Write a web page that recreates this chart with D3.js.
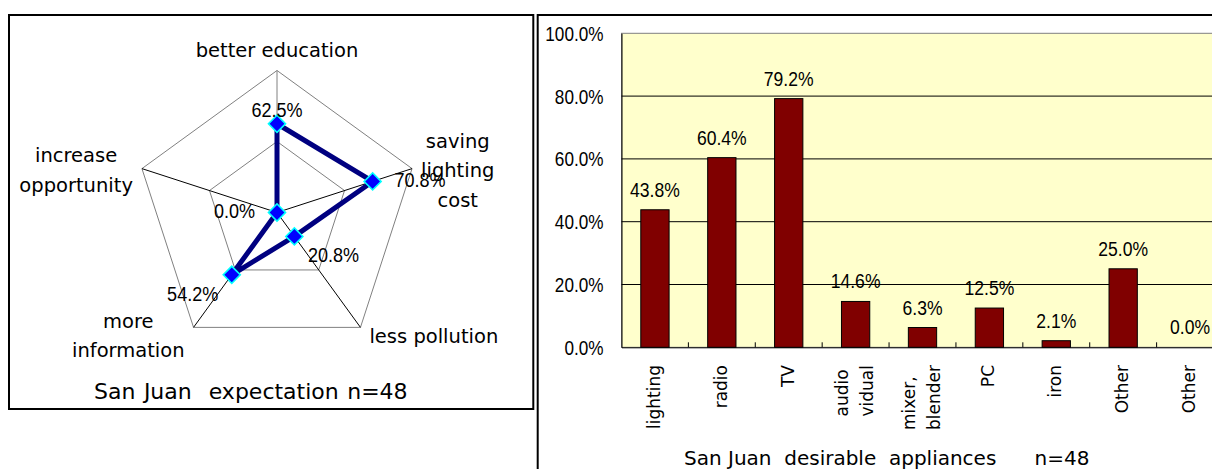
<!DOCTYPE html>
<html><head><meta charset="utf-8">
<script src="https://cdn.jsdelivr.net/npm/d3@7"></script>
<style>
html,body{margin:0;padding:0;background:#fff;}
svg{display:block;}
</style></head>
<body>
<svg id="c" width="1212" height="469"></svg>
<script>
// ---------- Radar chart data ----------
const radarCategories = [["better education"], ["saving", "lighting", "cost"], ["less pollution"], ["more", "information"], ["increase", "opportunity"]];
const radarValues = [0.625, 0.708, 0.208, 0.542, 0.0];
const radarTicks = [0.5, 1.0];
const radarTitle = "San Juan  expectation n=48";

// ---------- Bar chart data ----------
const barCategories = [["lighting"], ["radio"], ["TV"], ["audio", "vidual"], ["mixer,", "blender"], ["PC"], ["iron"], ["Other"], ["Other"]];
const barValues = [0.438, 0.604, 0.792, 0.146, 0.063, 0.125, 0.021, 0.25, 0.0];
const barTicks = [0, 0.2, 0.4, 0.6, 0.8, 1.0];
const barTitle = "San Juan  desirable  appliances      n=48";

const TXT = "'DejaVu Sans', sans-serif";
const NUM = "'Liberation Sans', Arial, sans-serif";
const pct = d3.format(".1%");

const svg = d3.select("#c");

// condensed numeric label helper
function numLabel(parent, x, y, str, anchor, size, sx) {
  const g = parent.append("g").attr("transform", `translate(${x},${y}) scale(${sx},1)`);
  g.append("text").attr("x", 0).attr("y", 0).attr("text-anchor", anchor)
    .attr("font-family", NUM).attr("font-size", size).attr("fill", "#000").text(str);
  return g;
}

// ---------- frames ----------
svg.append("rect").attr("x", 9).attr("y", 15).attr("width", 524.3).attr("height", 394)
  .attr("fill", "#fff").attr("stroke", "#000").attr("stroke-width", 2);
svg.append("rect").attr("x", 537.7).attr("y", 15).attr("width", 800).attr("height", 600)
  .attr("fill", "#fff").attr("stroke", "#000").attr("stroke-width", 2);

// ---------- Radar ----------
const cx = 277, cy = 212.5, R = 142;
const n = radarValues.length;
const r = d3.scaleLinear().domain([0, 1]).range([0, R]);
const ang = i => i * 2 * Math.PI / n;
const pt = (i, v) => [cx + r(v) * Math.sin(ang(i)), cy - r(v) * Math.cos(ang(i))];

const rg = svg.append("g");
// rings
radarTicks.forEach(t => {
  rg.append("path")
    .attr("d", d3.line()(d3.range(n).map(i => pt(i, t))) + "Z")
    .attr("fill", "none").attr("stroke", "#808080").attr("stroke-width", 1);
});
// spokes
d3.range(n).forEach(i => {
  const p = pt(i, 1);
  rg.append("line").attr("x1", cx).attr("y1", cy).attr("x2", p[0]).attr("y2", p[1])
    .attr("stroke", i === 0 ? "#808080" : "#000").attr("stroke-width", 1);
});
// series
const radial = d3.lineRadial().angle((d, i) => ang(i)).radius(d => r(d)).curve(d3.curveLinearClosed);
rg.append("path").attr("transform", `translate(${cx},${cy})`)
  .attr("d", radial(radarValues))
  .attr("fill", "none").attr("stroke", "#000080").attr("stroke-width", 5).attr("stroke-linejoin", "round");
// markers
const diamond = d3.symbol().type(d3.symbolSquare).size(145);
radarValues.forEach((v, i) => {
  const p = pt(i, v);
  rg.append("path").attr("d", diamond())
    .attr("transform", `translate(${p[0]},${p[1]}) rotate(45)`)
    .attr("fill", "#0000FF").attr("stroke", "#00FFFF").attr("stroke-width", 1.6);
});
// data labels
radarValues.forEach((v, i) => {
  const p = pt(i, v), s = Math.sin(ang(i)), c = Math.cos(ang(i));
  const anchor = Math.abs(s) < 0.2 ? "middle" : (s > 0 ? "start" : "end");
  const yc = p[1] - c * 18 + 4;
  numLabel(rg, p[0] + s * 23, yc + 7.3, pct(v), anchor, 20.5, 0.88);
});
// axis labels
const lh = 29.5;
radarCategories.forEach((lines, i) => {
  const s = Math.sin(ang(i)), c = Math.cos(ang(i));
  const v = pt(i, 1);
  const t = rg.append("text").attr("font-family", TXT).attr("font-size", 19.5)
    .attr("text-anchor", "middle").attr("fill", "#000");
  const spans = lines.map(l => t.append("tspan").text(l));
  const w = d3.max(spans, sp => sp.node().getComputedTextLength());
  const nL = lines.length;
  let xc, yc;
  if (Math.abs(s) < 0.2) {
    xc = v[0];
    yc = v[1] - 14 - 5.3 - (nL - 1) / 2 * lh;
  } else {
    xc = v[0] + Math.sign(s) * (9 + w / 2);
    yc = v[1] - c * 6 + 5;
  }
  spans.forEach((sp, j) => sp.attr("x", xc).attr("y", yc + (j - (nL - 1) / 2) * lh + 5.3));
});
// radar title
svg.append("text").attr("x", 94).attr("y", 399).attr("font-family", TXT).attr("font-size", 22)
  .attr("fill", "#000").style("white-space", "pre").attr("word-spacing", 1.5).text(radarTitle);

// ---------- Bar chart ----------
const x = d3.scaleBand().domain(d3.range(barValues.length)).range([621.5, 1223.5])
  .paddingInner(0.577).paddingOuter(0.2885);
const y = d3.scaleLinear().domain([0, 1]).range([347.3, 33.3]);
const [x0, x1] = x.range();

const bg = svg.append("g");
bg.append("rect").attr("x", x0).attr("y", y(1)).attr("width", x1 - x0).attr("height", y(0) - y(1))
  .attr("fill", "#FFFFCC").attr("stroke", "#808080").attr("stroke-width", 1);
// gridlines
bg.selectAll(".grid").data(barTicks.filter(t => t > 0 && t < 1)).join("line")
  .attr("x1", x0).attr("x2", x1).attr("y1", d => y(d)).attr("y2", d => y(d))
  .attr("stroke", "#000").attr("stroke-width", 1);
// bars
bg.selectAll(".bar").data(barValues).join("rect")
  .attr("x", (d, i) => x(i)).attr("width", x.bandwidth())
  .attr("y", d => y(d)).attr("height", d => y(0) - y(d))
  .attr("fill", "#800000").attr("stroke", "#000").attr("stroke-width", 1);
// bar labels
barValues.forEach((d, i) => {
  numLabel(bg, x(i) + x.bandwidth() / 2, y(d) - 13, pct(d), "middle", 19.5, 0.9);
});
// y axis
const ya = bg.append("g").attr("transform", `translate(${x0},0)`)
  .call(d3.axisLeft(y).tickValues(barTicks).tickFormat("").tickSize(0));
ya.select(".domain").attr("stroke", "#000");
barTicks.forEach(t => {
  numLabel(bg, x0 - 18, y(t) + 7.5, pct(t), "end", 19.5, 0.88);
});
// x axis
const xa = bg.append("g").attr("transform", `translate(0,${y(0)})`)
  .call(d3.axisBottom(x).tickSize(0).tickFormat(""));
xa.select(".domain").attr("stroke", "#000");
d3.range(1, barValues.length).forEach(k => {
  const xx = x0 + k * x.step();
  bg.append("line").attr("x1", xx).attr("x2", xx).attr("y1", y(0)).attr("y2", y(0) - 5)
    .attr("stroke", "#000").attr("stroke-width", 1);
});
// category labels (rotated)
barCategories.forEach((lines, i) => {
  const xc = x(i) + x.bandwidth() / 2;
  const g = bg.append("g").attr("transform", `translate(${xc},365) rotate(-90)`);
  const t = g.append("text").attr("font-family", TXT).attr("font-size", 17).attr("fill", "#000");
  const nL = lines.length;
  const spans = lines.map((l, j) => t.append("tspan").attr("y", (j - (nL - 1) / 2) * 25).attr("dy", "0.3em").text(l));
  if (nL === 1) {
    t.attr("text-anchor", "end");
    spans[0].attr("x", 0);
  } else {
    const w = d3.max(spans, sp => sp.node().getComputedTextLength());
    t.attr("text-anchor", "start");
    spans.forEach(sp => sp.attr("x", -w));
  }
});
// bar title
svg.append("text").attr("x", 684).attr("y", 465).attr("font-family", TXT).attr("font-size", 20)
  .attr("fill", "#000").style("white-space", "pre").text(barTitle);
</script>
</body></html>
